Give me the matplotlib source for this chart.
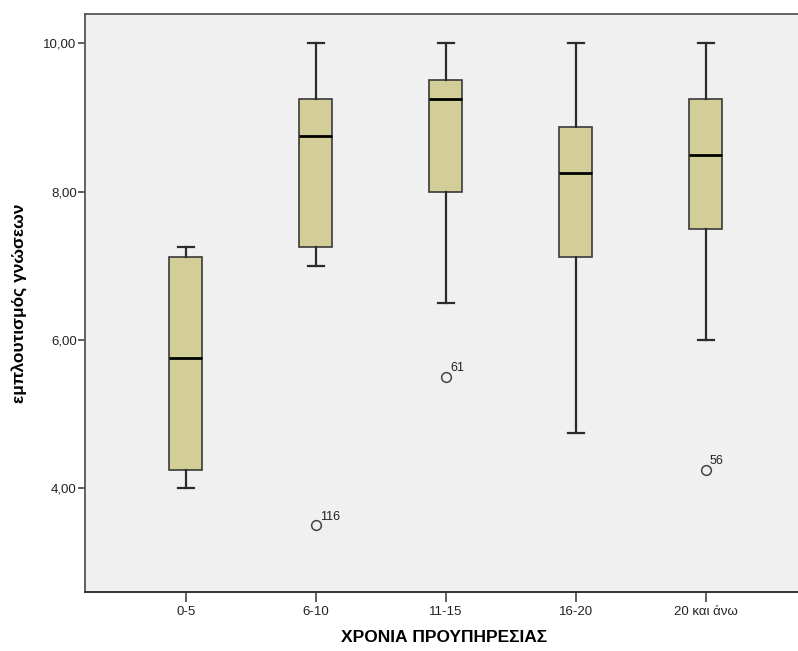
import matplotlib
matplotlib.use("Agg")
import matplotlib.pyplot as plt
from matplotlib.ticker import FuncFormatter

plt.rcParams["font.family"] = ["Liberation Sans", "DejaVu Sans"]

groups = ["0-5", "6-10", "11-15", "16-20", "20 και άνω"]
whisker_low = [4.00, 7.00, 6.50, 4.75, 6.00]
q1 = [4.25, 7.25, 8.00, 7.125, 7.50]
medians = [5.75, 8.75, 9.25, 8.25, 8.50]
q3 = [7.125, 9.25, 9.50, 8.875, 9.25]
whisker_high = [7.25, 10.00, 10.00, 10.00, 10.00]
outliers = [[], [3.5], [5.5], [], [4.25]]
outlier_ids = [[], ["116"], ["61"], [], ["56"]]

BOX_FILL = "#d3ce97"
BG = "#f0f0f0"
EDGE = "#2b2b2b"


def build_stats():
    stats = []
    for i, name in enumerate(groups):
        stats.append({
            "label": name,
            "whislo": whisker_low[i],
            "q1": q1[i],
            "med": medians[i],
            "q3": q3[i],
            "whishi": whisker_high[i],
            "fliers": outliers[i],
        })
    return stats


fig = plt.figure(figsize=(7.98, 6.51), dpi=100)
ax = fig.add_axes([0.1065, 0.0906, 0.9, 0.8884])
ax.set_facecolor(BG)

positions = list(range(1, len(groups) + 1))
ax.bxp(
    build_stats(),
    positions=positions,
    widths=0.25,
    patch_artist=True,
    showfliers=True,
    boxprops=dict(facecolor=BOX_FILL, edgecolor="#3a3a3a", linewidth=1.2),
    medianprops=dict(color="black", linewidth=2.0),
    whiskerprops=dict(color=EDGE, linewidth=1.6),
    capprops=dict(color=EDGE, linewidth=1.6),
    capwidths=0.125,
    flierprops=dict(marker="o", markersize=7, markerfacecolor="none",
                    markeredgecolor="#444444", markeredgewidth=1.1),
)

for pos, vals, ids in zip(positions, outliers, outlier_ids):
    for v, label in zip(vals, ids):
        ax.annotate(label, (pos, v), xytext=(3, 4), textcoords="offset points",
                    fontsize=9, color="#222222")

ax.set_xlim(0.225, 5.75)
ax.set_ylim(2.6, 10.4)
ax.set_yticks([4, 6, 8, 10])
ax.yaxis.set_major_formatter(FuncFormatter(lambda v, p: f"{v:.2f}".replace(".", ",")))
ax.set_xticks(positions)
ax.set_xticklabels(groups)

ax.spines["right"].set_visible(False)
for side in ["top", "left"]:
    ax.spines[side].set_color("#555555")
    ax.spines[side].set_linewidth(1.3)
ax.spines["bottom"].set_color("#333333")
ax.spines["bottom"].set_linewidth(1.4)

ax.tick_params(axis="y", direction="out", length=5, width=1.2, color="#444444",
               labelsize=9.5, labelcolor="#222222", pad=1)
ax.tick_params(axis="x", direction="out", length=7, width=1.2, color="#444444",
               labelsize=9.5, labelcolor="#222222", pad=3)

ax.set_xlabel("ΧΡΟΝΙΑ ΠΡΟΥΠΗΡΕΣΙΑΣ", fontsize=12.5, fontweight="bold", labelpad=9)
ax.set_ylabel("εμπλουτισμός γνώσεων", fontsize=12.5, fontweight="bold", labelpad=12)

fig.savefig("out.png", dpi=100, facecolor="white")
